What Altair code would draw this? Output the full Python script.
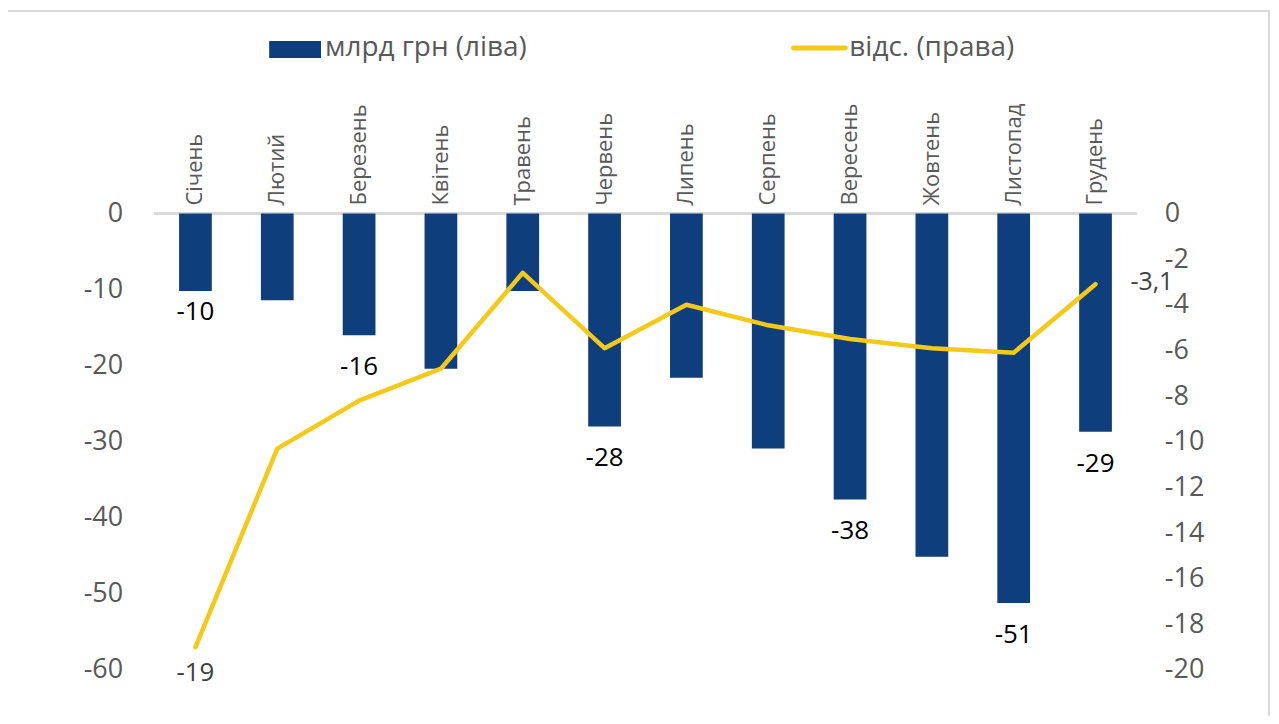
import altair as alt
import pandas as pd

months = ["Січень", "Лютий", "Березень", "Квітень", "Травень", "Червень",
          "Липень", "Серпень", "Вересень", "Жовтень", "Листопад", "Грудень"]
bn_values = [-10.2, -11.4, -16.0, -20.4, -10.2, -28.0, -21.6, -30.9, -37.6, -45.1, -51.2, -28.7]
pct_values = [-19.0, -10.3, -8.2, -6.8, -2.6, -5.9, -4.0, -4.9, -5.5, -5.9, -6.1, -3.1]
bn_labels = ["-10", "", "-16", "", "", "-28", "", "", "-38", "", "-51", "-29"]
pct_labels = ["-19", "", "", "", "", "", "", "", "", "", "", "-3,1"]

df = pd.DataFrame({"month": months, "bn": bn_values, "pct": pct_values,
                   "bn_lab": bn_labels, "pct_lab": pct_labels})

FONT = "Open Sans"
BLUE = "#0E3E7C"
YELLOW = "#F5C918"
GRAY = "#595959"

xscale = alt.Scale(type="band", paddingInner=0.6, paddingOuter=0.3)
xfield = alt.X("month:N", sort=months, scale=xscale, axis=None)

base = alt.Chart(df)

ybn = alt.Scale(domain=[-60, 0], nice=False, zero=False)
ypct = alt.Scale(domain=[-20, 0], nice=False, zero=False)

bars = base.mark_bar(color=BLUE).encode(
    x=xfield,
    y=alt.Y("bn:Q", scale=ybn,
            axis=alt.Axis(orient="left", title="", values=list(range(-60, 1, 10)),
                          grid=False, domain=False, ticks=False, labelPadding=32,
                          labelExpr="datum.value + ''",
                          labelFontSize=27, labelColor=GRAY, labelFont=FONT)),
)

zero_line = base.mark_rule(color="#D9D9D9", strokeWidth=2).encode(
    x=alt.value(0), x2=alt.value(985), y=alt.value(0))

cat_labels = base.mark_text(
    font=FONT, fontSize=22, color=GRAY, angle=270, align="left", baseline="middle", dx=8
).encode(x=xfield, y=alt.value(0), text="month:N")

bar_lab_first = base.transform_filter(alt.datum.month == "Січень").mark_text(
    font=FONT, fontSize=26, color="#000000", dy=21, baseline="middle", align="center"
).encode(x=xfield, y=alt.Y("bn:Q", scale=ybn, axis=None), text="bn_lab:N")

bar_lab_rest = base.transform_filter(
    (alt.datum.month != "Січень") & (alt.datum.bn_lab != "")
).mark_text(
    font=FONT, fontSize=26, color="#000000", dy=32, baseline="middle", align="center"
).encode(x=xfield, y=alt.Y("bn:Q", scale=ybn, axis=None), text="bn_lab:N")

line = base.mark_line(color=YELLOW, strokeWidth=4.5, strokeCap="round", strokeJoin="round").encode(
    x=xfield,
    y=alt.Y("pct:Q", scale=ypct,
            axis=alt.Axis(orient="right", title="", values=list(range(-20, 1, 2)),
                          grid=False, domain=False, ticks=False, labelPadding=28,
                          labelExpr="datum.value + ''",
                          labelFontSize=27, labelColor=GRAY, labelFont=FONT)),
)

line_lab_first = base.transform_filter(alt.datum.month == "Січень").mark_text(
    font=FONT, fontSize=26, color="#404040", dy=26, baseline="middle", align="center"
).encode(x=xfield, y=alt.Y("pct:Q", scale=ypct, axis=None), text="pct_lab:N")

line_lab_last = base.transform_filter(alt.datum.month == "Грудень").mark_text(
    font=FONT, fontSize=25, color="#404040", dx=35, dy=-2, baseline="middle", align="left"
).encode(x=xfield, y=alt.Y("pct:Q", scale=ypct, axis=None), text="pct_lab:N")

one = alt.Chart(pd.DataFrame({"k": [0]}))

leg_rect = one.mark_rect(color=BLUE).encode(
    x=alt.value(115), x2=alt.value(167), y=alt.value(-173), y2=alt.value(-156))
leg_text1 = one.mark_text(font=FONT, fontSize=28, color=GRAY, align="left", baseline="middle").encode(
    x=alt.value(171), y=alt.value(-166), text=alt.value("млрд грн (ліва)"))
leg_line = one.mark_rule(color=YELLOW, strokeWidth=5, strokeCap="round").encode(
    x=alt.value(641), x2=alt.value(693), y=alt.value(-166))
leg_text2 = one.mark_text(font=FONT, fontSize=28, color=GRAY, align="left", baseline="middle").encode(
    x=alt.value(697), y=alt.value(-166), text=alt.value("відс. (права)"))

frame = one.mark_rect(fill="transparent", stroke="#D9D9D9", strokeWidth=2).encode(
    x=alt.value(-149), x2=alt.value(1118), y=alt.value(-203), y2=alt.value(540))

chart = alt.layer(
    zero_line, bars, cat_labels, bar_lab_first, bar_lab_rest,
    line, line_lab_first, line_lab_last,
    frame, leg_rect, leg_text1, leg_line, leg_text2
).resolve_scale(y="independent").properties(
    width=985, height=458,
    padding={"left": 147, "top": 205, "right": 135, "bottom": 45},
    autosize=alt.AutoSizeParams(type="none"),
).configure(background="white").configure_view(stroke="transparent", strokeWidth=0)

chart.save("out.html", embed_options={"renderer": "svg", "actions": False})
